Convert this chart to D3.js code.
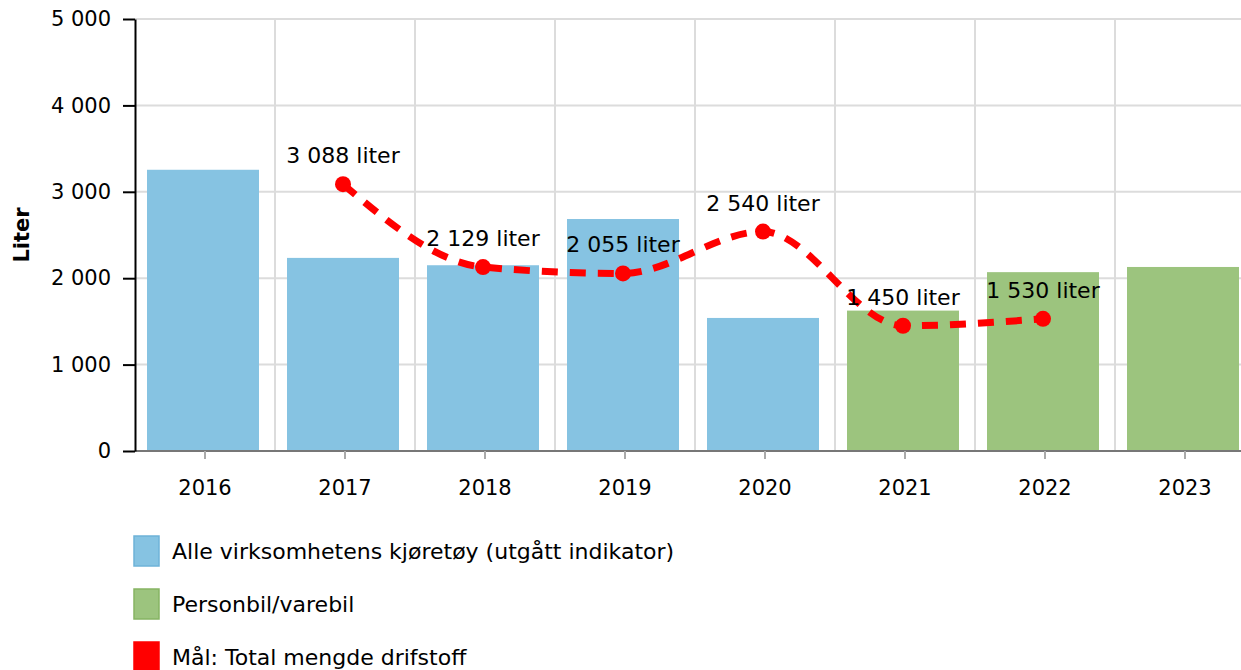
<!DOCTYPE html>
<html>
<head>
<meta charset="utf-8">
<script src="https://cdn.jsdelivr.net/npm/d3@7"></script>
<style>
  body { margin: 0; background: #fff; }
  svg { font-family: "DejaVu Sans", Verdana, sans-serif; }
</style>
</head>
<body>
<div id="chart"></div>
<script>
var years = ["2016", "2017", "2018", "2019", "2020", "2021", "2022", "2023"];
// bar values (liter), blue = all vehicles, green = personbil/varebil
var allVehicles = [3255, 2235, 2150, 2685, 1540, null, null, null];
var carsVans = [null, null, null, null, null, 1625, 2070, 2130];
// target line
var goal = [null, 3088, 2129, 2055, 2540, 1450, 1530, null];
var yTicks = [0, 1000, 2000, 3000, 4000, 5000];
var legendLabels = ["Alle virksomhetens kjøretøy (utgått indikator)", "Personbil/varebil", "Mål: Total mengde drifstoff"];

var svgWidth = 1241;
var svgHeight = 670;
var margin = { top: 19, left: 135 };
var plotHeight = 432;

var svg = d3.select("#chart")
  .append("svg")
  .attr("width", svgWidth)
  .attr("height", svgHeight);

var nb = d3.formatLocale({ decimal: ",", thousands: " ", grouping: [3], currency: ["", ""] });
var fmt = nb.format(",d");

var x = d3.scaleBand()
  .domain(years)
  .range([margin.left, margin.left + 140 * years.length])
  .paddingInner(0.2)
  .paddingOuter(0.1);

var y = d3.scaleLinear()
  .domain([0, 5000])
  .range([margin.top + plotHeight, margin.top]);

var step = x.step();

// horizontal grid
svg.append("g").selectAll("line")
  .data(yTicks)
  .enter().append("line")
  .attr("x1", margin.left).attr("x2", svgWidth)
  .attr("y1", d => y(d)).attr("y2", d => y(d))
  .attr("stroke", "#dcdcdc").attr("stroke-width", 2);

// vertical grid at category boundaries
svg.append("g").selectAll("line")
  .data(years.slice(1))
  .enter().append("line")
  .attr("x1", d => x(d) - step * 0.1).attr("x2", d => x(d) - step * 0.1)
  .attr("y1", y(5000)).attr("y2", y(0))
  .attr("stroke", "#dcdcdc").attr("stroke-width", 2);

// bars
function drawBars(values, color) {
  svg.append("g").selectAll("rect")
    .data(years.map((d, i) => ({ year: d, value: values[i] })).filter(d => d.value != null))
    .enter().append("rect")
    .attr("x", d => x(d.year) - 2)
    .attr("width", x.bandwidth())
    .attr("y", d => y(d.value))
    .attr("height", d => y(0) - y(d.value))
    .attr("fill", color);
}
drawBars(allVehicles, "#86c3e2");
drawBars(carsVans, "#9cc47e");

// x axis
var xAxis = svg.append("g")
  .attr("transform", `translate(0, ${y(0)})`)
  .call(d3.axisBottom(x).tickSize(8).tickSizeOuter(0).tickPadding(21))
  .attr("font-family", null)
  .attr("font-size", 21);
xAxis.select(".domain").attr("stroke", "#777").attr("stroke-width", 2)
  .attr("d", `M${margin.left},0H${svgWidth}`);
xAxis.selectAll(".tick line").attr("stroke", "#aaa").attr("stroke-width", 2);
xAxis.selectAll(".tick text").attr("fill", "#000");

// y axis
var yAxis = svg.append("g")
  .attr("transform", `translate(${margin.left}, 0)`)
  .call(d3.axisLeft(y).tickValues(yTicks).tickFormat(fmt).tickSize(12).tickSizeOuter(0).tickPadding(12))
  .attr("font-family", null)
  .attr("font-size", 21);
yAxis.select(".domain").attr("stroke", "#000").attr("stroke-width", 2);
yAxis.selectAll(".tick line").attr("stroke", "#000").attr("stroke-width", 2);
yAxis.selectAll(".tick text").attr("fill", "#000");

// y label
svg.append("text")
  .attr("transform", `translate(29, ${y(2500)}) rotate(-90)`)
  .attr("text-anchor", "middle")
  .attr("font-size", 21)
  .attr("font-weight", "bold")
  .text("Liter");

// goal line
var goalData = years.map((d, i) => ({ year: d, value: goal[i] })).filter(d => d.value != null);
var cx = d => x(d.year) + x.bandwidth() / 2 - 2;

svg.append("path")
  .datum(goalData)
  .attr("fill", "none")
  .attr("stroke", "#ff0000")
  .attr("stroke-width", 7)
  .attr("stroke-dasharray", "16,12")
  .attr("d", d3.line().x(cx).y(d => y(d.value)).curve(d3.curveMonotoneX));

svg.append("g").selectAll("circle")
  .data(goalData)
  .enter().append("circle")
  .attr("cx", cx)
  .attr("cy", d => y(d.value))
  .attr("r", 8)
  .attr("fill", "#ff0000");

svg.append("g").selectAll("text")
  .data(goalData)
  .enter().append("text")
  .attr("x", cx)
  .attr("y", d => y(d.value) - 21)
  .attr("text-anchor", "middle")
  .attr("font-size", 22)
  .text(d => fmt(d.value) + " liter");

// legend
var legendColors = [["#86c3e2", "#6eb3d8"], ["#9cc47e", "#86b463"], ["#ff0000", "#ff0000"]];
var legend = svg.append("g").selectAll("g")
  .data(legendLabels)
  .enter().append("g")
  .attr("transform", (d, i) => `translate(134, ${536 + i * 53})`);
legend.append("rect")
  .attr("width", 25).attr("height", 30)
  .attr("fill", (d, i) => legendColors[i][0])
  .attr("stroke", (d, i) => legendColors[i][1])
  .attr("stroke-width", 1.5);
legend.append("text")
  .attr("x", 38).attr("y", 15)
  .attr("dy", "0.35em")
  .attr("font-size", 22)
  .text(d => d);
</script>
</body>
</html>
